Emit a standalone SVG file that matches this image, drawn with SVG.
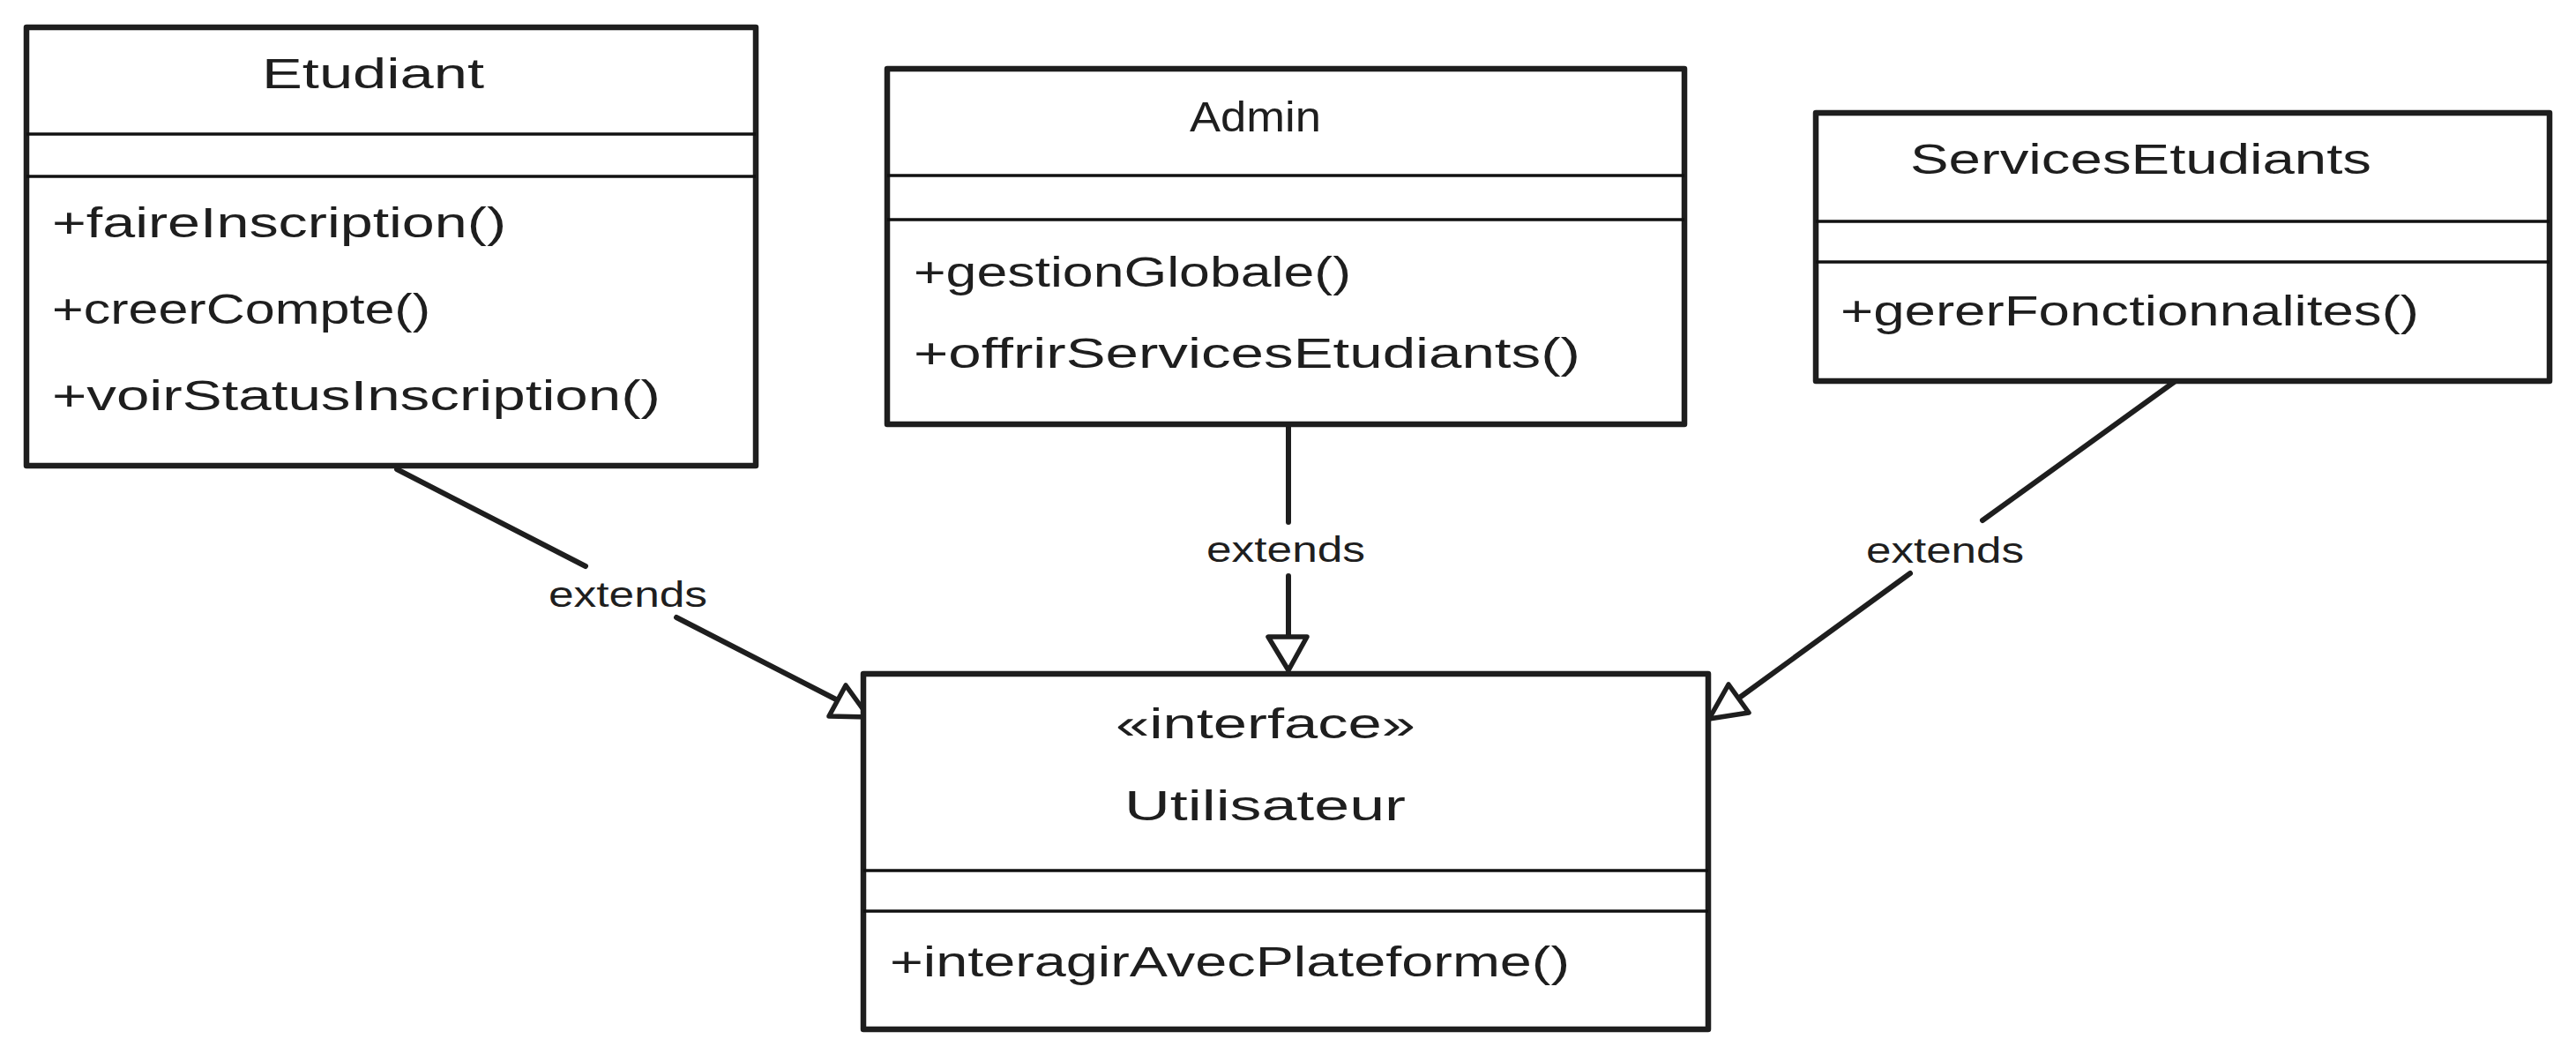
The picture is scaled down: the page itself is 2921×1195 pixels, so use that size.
<svg xmlns="http://www.w3.org/2000/svg" width="2921" height="1195" viewBox="0 0 2921 1195">
<style>
.bg{fill:#ffffff}
.box{fill:#ffffff;stroke:#1e1e1e;stroke-width:6.5;stroke-linejoin:round}
.div{stroke:#111111;stroke-width:3.5;fill:none}
.t{font-family:"Liberation Sans",Arial,sans-serif;font-size:48px;fill:#1e1e1e}
.lbl{font-family:"Liberation Sans",Arial,sans-serif;font-size:40px;fill:#1e1e1e}
.edge{stroke:#1e1e1e;stroke-width:6;fill:none;stroke-linecap:round}
.head{fill:#ffffff;stroke:#1e1e1e;stroke-width:5.5;stroke-linejoin:round}
</style>
<rect class="bg" x="0" y="0" width="2921" height="1195"/>

<g id="connectors">
  <g id="edge-etudiant">
    <line class="edge" x1="450" y1="532" x2="664" y2="642"/>
    <line class="edge" x1="767" y1="700" x2="950" y2="794"/>
    <polygon class="head" points="959,777 985,813 940,812"/>
    <text class="lbl" x="622" y="688" textLength="180" lengthAdjust="spacingAndGlyphs">extends</text>
  </g>
  <g id="edge-admin">
    <line class="edge" x1="1461" y1="482" x2="1461" y2="592"/>
    <line class="edge" x1="1461" y1="653" x2="1461" y2="722"/>
    <polygon class="head" points="1438,722 1482,722 1461,760"/>
    <text class="lbl" x="1368" y="637" textLength="180" lengthAdjust="spacingAndGlyphs">extends</text>
  </g>
  <g id="edge-services">
    <line class="edge" x1="2471" y1="429" x2="2248" y2="590"/>
    <line class="edge" x1="2166" y1="650" x2="1971" y2="792"/>
    <polygon class="head" points="1960,776 1983,808 1938,815"/>
    <text class="lbl" x="2116" y="638" textLength="179" lengthAdjust="spacingAndGlyphs">extends</text>
  </g>
</g>

<g id="node-etudiant">
  <rect class="box" x="30" y="31" width="827" height="497"/>
  <line class="div" x1="30" y1="152" x2="857" y2="152"/>
  <line class="div" x1="30" y1="200" x2="857" y2="200"/>
  <text class="t" x="297" y="100" textLength="252" lengthAdjust="spacingAndGlyphs">Etudiant</text>
  <text class="t" x="59" y="269" textLength="515" lengthAdjust="spacingAndGlyphs">+faireInscription()</text>
  <text class="t" x="59" y="367" textLength="429" lengthAdjust="spacingAndGlyphs">+creerCompte()</text>
  <text class="t" x="59" y="465" textLength="690" lengthAdjust="spacingAndGlyphs">+voirStatusInscription()</text>
</g>

<g id="node-admin">
  <rect class="box" x="1006" y="78" width="904" height="403"/>
  <line class="div" x1="1006" y1="199" x2="1910" y2="199"/>
  <line class="div" x1="1006" y1="249" x2="1910" y2="249"/>
  <text class="t" x="1349" y="149" textLength="149" lengthAdjust="spacingAndGlyphs">Admin</text>
  <text class="t" x="1036" y="325" textLength="496" lengthAdjust="spacingAndGlyphs">+gestionGlobale()</text>
  <text class="t" x="1036" y="417" textLength="756" lengthAdjust="spacingAndGlyphs">+offrirServicesEtudiants()</text>
</g>

<g id="node-services">
  <rect class="box" x="2059" y="128" width="832" height="304"/>
  <line class="div" x1="2059" y1="251" x2="2891" y2="251"/>
  <line class="div" x1="2059" y1="297" x2="2891" y2="297"/>
  <text class="t" x="2166" y="197" textLength="523" lengthAdjust="spacingAndGlyphs">ServicesEtudiants</text>
  <text class="t" x="2087" y="369" textLength="656" lengthAdjust="spacingAndGlyphs">+gererFonctionnalites()</text>
</g>

<g id="node-utilisateur">
  <rect class="box" x="979" y="764" width="958" height="403"/>
  <line class="div" x1="979" y1="987" x2="1937" y2="987"/>
  <line class="div" x1="979" y1="1033" x2="1937" y2="1033"/>
  <text class="t" x="1265" y="837" textLength="340" lengthAdjust="spacingAndGlyphs">«interface»</text>
  <text class="t" x="1275" y="930" textLength="319" lengthAdjust="spacingAndGlyphs">Utilisateur</text>
  <text class="t" x="1009" y="1107" textLength="771" lengthAdjust="spacingAndGlyphs">+interagirAvecPlateforme()</text>
</g>
</svg>
